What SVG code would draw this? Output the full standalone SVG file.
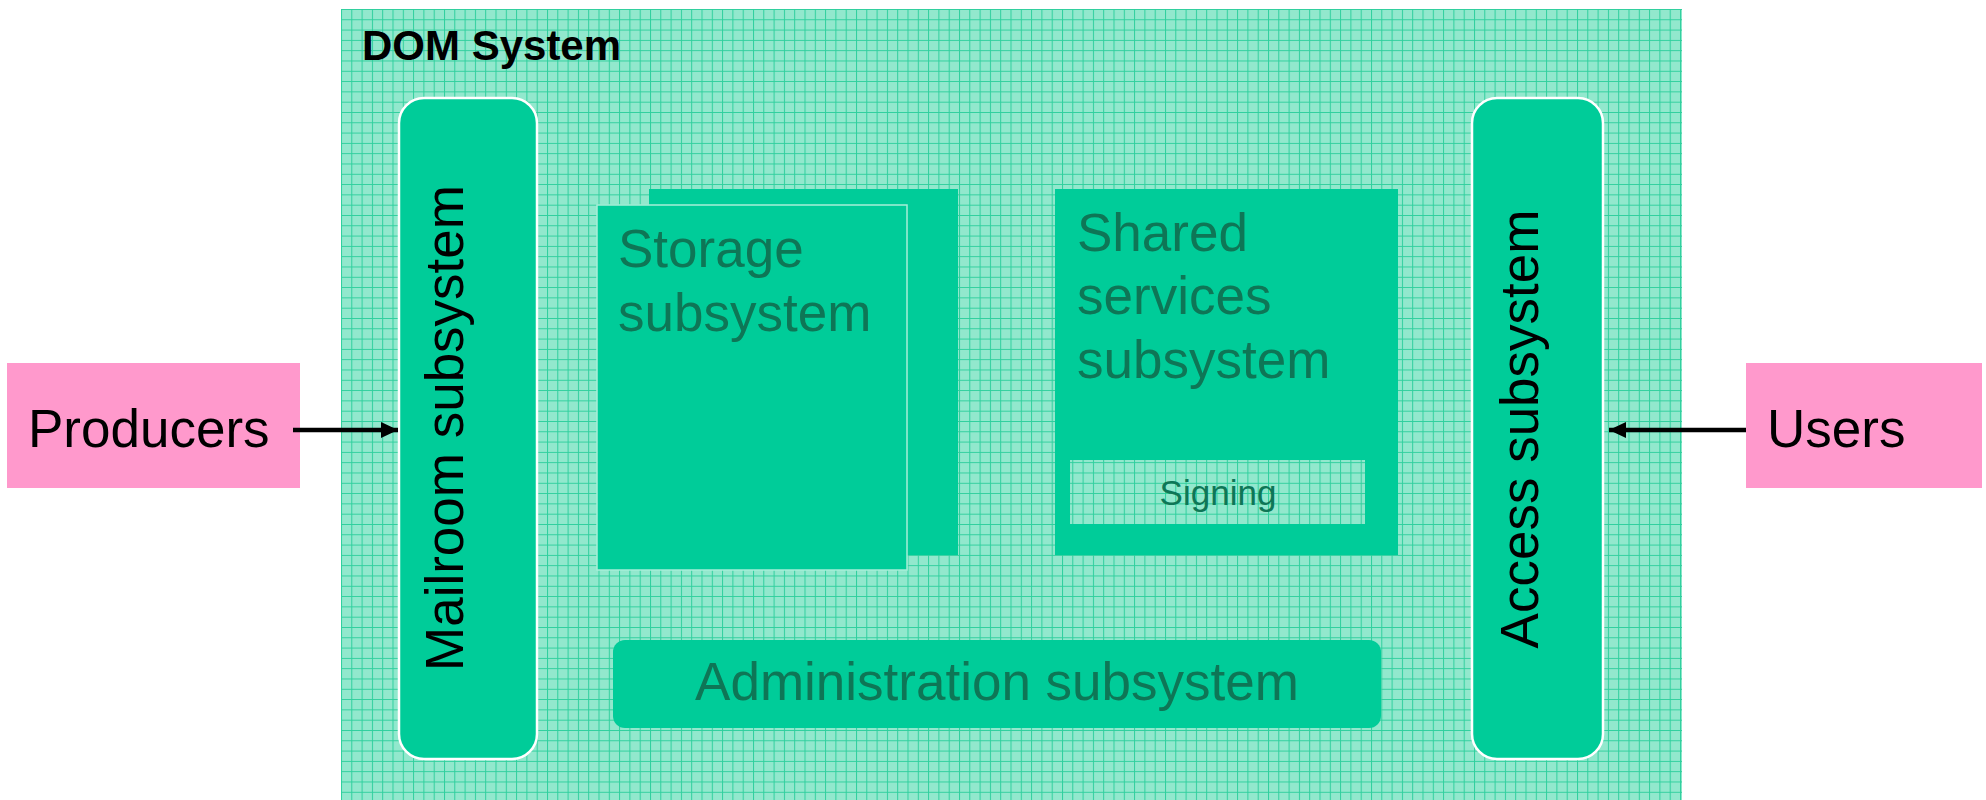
<svg xmlns="http://www.w3.org/2000/svg" width="1986" height="800" viewBox="0 0 1986 800">
  <defs>
    <!-- fine graph-paper texture used for the system background and the Signing box -->
    <pattern id="grid" x="341" y="9" width="10.3" height="10.3" patternUnits="userSpaceOnUse">
      <rect width="10.3" height="10.3" fill="#92e8cd"/>
      <path d="M0,0.5 H10.3 M0.5,0 V10.3" stroke="#2fcf9d" stroke-width="1" fill="none"/>
    </pattern>
    <marker id="ah" viewBox="0 0 17 16" refX="17" refY="8" markerWidth="17" markerHeight="16" orient="auto" markerUnits="userSpaceOnUse">
      <path d="M0,0 L17,8 L0,16 z" fill="#000"/>
    </marker>
    <style>
      .sub { fill: #00cc99; }
      .pill { fill: #00cc99; stroke: #ffffff; stroke-width: 2.5; }
      .ext { fill: #ff99cc; }
      .lbl { font-family: "Liberation Sans", Arial, sans-serif; font-size: 53px; }
      .dark { fill: #0e7656; }
      .blk { fill: #000000; }
      .conn { stroke: #000; stroke-width: 4.5; fill: none; marker-end: url(#ah); }
    </style>
  </defs>

  <rect width="1986" height="800" fill="#ffffff"/>

  <!-- system boundary -->
  <g id="dom-system">
    <rect x="341" y="9" width="1341" height="791" fill="url(#grid)"/>
    <text x="362" y="60" font-family="Liberation Sans, Arial, sans-serif" font-size="42" font-weight="bold" fill="#000">DOM System</text>
  </g>

  <g id="mailroom">
    <rect class="pill" x="399" y="98" width="138" height="661" rx="25" ry="25"/>
    <text class="lbl blk" text-anchor="middle" transform="translate(463,428) rotate(-90)">Mailroom subsystem</text>
  </g>

  <g id="access">
    <rect class="pill" x="1472" y="98" width="131" height="661" rx="25" ry="25"/>
    <text class="lbl blk" text-anchor="middle" transform="translate(1538,429) rotate(-90)">Access subsystem</text>
  </g>

  <g id="storage">
    <rect class="sub" x="649" y="189" width="309" height="366"/>
    <rect class="sub" x="597" y="205" width="310" height="365" stroke="#a6eed8" stroke-width="1.5"/>
    <text class="lbl dark" x="618" y="267">Storage</text>
    <text class="lbl dark" x="618" y="331">subsystem</text>
  </g>

  <g id="shared-services">
    <rect class="sub" x="1055" y="189" width="343" height="366"/>
    <text class="lbl dark" x="1077" y="251">Shared</text>
    <text class="lbl dark" x="1077" y="314">services</text>
    <text class="lbl dark" x="1077" y="378">subsystem</text>
  </g>

  <g id="signing">
    <rect x="1070" y="460" width="295" height="64" fill="url(#grid)"/>
    <text x="1218" y="505" text-anchor="middle" font-family="Liberation Sans, Arial, sans-serif" font-size="35" class="dark">Signing</text>
  </g>

  <g id="administration">
    <rect class="sub" x="613" y="640" width="768" height="88" rx="12" ry="12"/>
    <text class="lbl dark" x="997" y="700" text-anchor="middle">Administration subsystem</text>
  </g>

  <g id="producers">
    <rect class="ext" x="7" y="363" width="293" height="125"/>
    <text class="lbl blk" x="28" y="447">Producers</text>
  </g>

  <g id="users">
    <rect class="ext" x="1746" y="363" width="236" height="125"/>
    <text class="lbl blk" x="1767" y="447">Users</text>
  </g>

  <!-- connectors -->
  <g id="connectors">
    <line class="conn" x1="293" y1="430" x2="398" y2="430"/>
    <line class="conn" x1="1746" y1="430" x2="1609" y2="430"/>
  </g>
</svg>
